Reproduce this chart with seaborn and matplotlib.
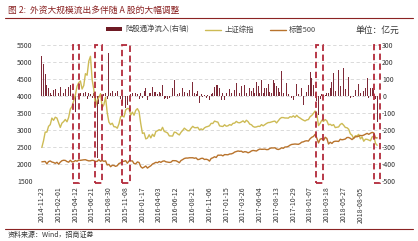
import numpy as np
import pandas as pd
import matplotlib
matplotlib.use("Agg")
import matplotlib.pyplot as plt
import matplotlib.transforms as mtransforms
from matplotlib.patches import Rectangle, Patch
from matplotlib.lines import Line2D
import seaborn as sns

sns.set_theme(style="white")
plt.rcParams['font.family'] = ['Noto Sans CJK SC', 'DejaVu Sans']
plt.rcParams['axes.unicode_minus'] = False

# ---------------- data (weekly) ----------------
tick_labels = ["2014-11-23", "2015-02-01", "2015-04-12", "2015-06-21", "2015-08-30",
               "2015-11-08", "2016-01-17", "2016-04-03", "2016-06-12", "2016-08-21",
               "2016-11-06", "2017-01-15", "2017-03-26", "2017-06-04", "2017-08-13",
               "2017-10-29", "2018-01-07", "2018-03-18", "2018-05-27", "2018-08-05"]

shanghai = [2487, 2683, 2938, 2938, 3108, 3157, 3350, 3285, 3376, 3351,
            3210, 3076, 3203, 3247, 3310, 3241, 3373, 3617, 3691, 3863,
            4034, 4287, 4393, 4442, 4205, 4308, 4657, 4611, 5023, 5166,
            4478, 4192, 3687, 3877, 3957, 4070, 3664, 3744, 3965, 3508,
            3232, 3160, 3200, 3097, 3092, 3053, 3183, 3391, 3412, 3383,
            3590, 3632, 3630, 3436, 3524, 3435, 3578, 3628, 3539, 3186,
            2901, 2916, 2738, 2763, 2860, 2767, 2874, 2810, 2955, 2979,
            3009, 2985, 3078, 2959, 2938, 2913, 2827, 2825, 2822, 2938,
            2927, 2885, 2854, 2932, 2988, 3054, 3013, 2979, 2977, 3050,
            3108, 3070, 3067, 3078, 3003, 3033, 3005, 3063, 3091, 3104,
            3125, 3196, 3192, 3262, 3244, 3232, 3122, 3110, 3103, 3154,
            3112, 3123, 3159, 3140, 3196, 3202, 3253, 3218, 3212, 3237,
            3269, 3223, 3287, 3246, 3173, 3155, 3103, 3083, 3091, 3110,
            3105, 3158, 3123, 3158, 3192, 3218, 3222, 3238, 3253, 3262,
            3208, 3268, 3332, 3367, 3365, 3353, 3353, 3349, 3391, 3378,
            3416, 3372, 3432, 3382, 3353, 3317, 3289, 3266, 3297, 3307,
            3391, 3429, 3488, 3558, 3462, 3129, 3199, 3289, 3254, 3307,
            3269, 3152, 3169, 3131, 3159, 3071, 3082, 3091, 3163, 3193,
            3141, 3075, 3067, 3022, 2889, 2847, 2747, 2831, 2829, 2873,
            2740, 2795, 2669, 2730, 2725, 2703, 2682, 2797, 2821, 2606,
            2550]

sp500 = [2064, 2068, 2075, 2003, 2071, 2089, 2058, 2045, 2019, 2051,
         1995, 2055, 2097, 2110, 2105, 2071, 2053, 2108, 2061, 2067,
         2102, 2081, 2117, 2108, 2116, 2123, 2126, 2107, 2092, 2094,
         2110, 2101, 2077, 2077, 2126, 2079, 2104, 2078, 2092, 1971,
         1989, 1921, 1961, 1958, 1931, 1951, 2015, 2033, 2075, 2079,
         2099, 2023, 2089, 2090, 2091, 2012, 2005, 2061, 2044, 1922,
         1880, 1907, 1940, 1880, 1918, 1948, 1999, 2022, 2050, 2036,
         2073, 2048, 2081, 2092, 2065, 2057, 2047, 2053, 2099, 2099,
         2096, 2071, 2037, 2103, 2130, 2162, 2175, 2174, 2183, 2184,
         2184, 2169, 2180, 2128, 2139, 2165, 2168, 2133, 2141, 2126,
         2085, 2164, 2182, 2213, 2192, 2260, 2258, 2263, 2239, 2277,
         2275, 2271, 2295, 2297, 2316, 2351, 2367, 2383, 2373, 2378,
         2344, 2363, 2356, 2329, 2349, 2384, 2399, 2391, 2382, 2416,
         2439, 2432, 2433, 2438, 2423, 2425, 2459, 2473, 2472, 2477,
         2441, 2426, 2443, 2477, 2461, 2500, 2502, 2519, 2553, 2575,
         2581, 2588, 2582, 2579, 2602, 2642, 2652, 2675, 2683, 2674,
         2743, 2786, 2810, 2873, 2762, 2620, 2732, 2747, 2691, 2786,
         2752, 2588, 2641, 2604, 2656, 2670, 2670, 2663, 2728, 2712,
         2721, 2735, 2779, 2780, 2755, 2718, 2760, 2801, 2802, 2819,
         2840, 2833, 2850, 2875, 2902, 2872, 2905, 2930, 2914, 2767,
         2768]

net_inflow = [235, 190, 130, 65, 45, 15, 8, 35, 40, 35,
              20, 55, 75, 15, 40, 10, 55, 65, 94, -25,
              -95, -40, 10, 20, -10, 15, 25, -15, 20, 10,
              -10, 15, -55, -365, -45, 15, -30, 10, 20, -15,
              255, 15, 30, 45, 20, 30, 15, -15, -45, -65,
              -70, -55, -35, 10, 15, -10, 20, 10, -15, 20,
              -10, 30, 45, -25, 15, 20, 55, 25, 22, 10,
              25, 15, 62, -15, -12, -15, -10, 20, 45, 94,
              16, 10, 16, 20, 45, 25, 25, 15, 35, 20,
              80, 16, 10, 31, -40, 10, -5, 8, -10, 5,
              -24, 10, 20, 55, 65, 65, 45, -24, 15, -24,
              20, 39, 39, 20, 90, 35, 75, 20, 15, 57,
              25, 65, 16, 20, 45, 30, 45, 20, 85, 60,
              15, 94, 20, 45, 45, 70, 25, 15, 92, 75,
              60, 45, 25, 149, 20, 45, 75, 10, 135, -14,
              -24, 16, 68, 10, -24, 45, -53, 15, 25, 65,
              143, 104, 65, 20, -30, -112, -20, 10, 5, 8,
              16, 20, 45, 84, 133, 30, 104, 153, 60, 133,
              163, 40, 133, 114, -14, -20, -4, 35, 55, 69,
              20, 127, 30, 45, 104, -14, 45, 45, 35, -20,
              -155]

# highlighted periods (index ranges of weekly data)
highlight_ranges = [(18.5, 22.0), (31.7, 36.0), (47.6, 52.6), (163.5, 167.7), (198.0, 201.8)]

# ---------------- styles ----------------
c_bar = "#7E2A38"
c_sh = "#CDBB55"
c_sp = "#B8732C"
c_box = "#B22A3A"
c_title = "#8B2323"

idx = np.arange(len(shanghai))
df = pd.DataFrame({"idx": idx, "sh": shanghai, "sp": sp500, "flow": net_inflow})

fig = plt.figure(figsize=(4.18, 2.41), dpi=100)
# primary axes: bars (right-hand scale); twin: lines (left-hand scale), drawn on top
axb = fig.add_axes([41 / 418, 1 - 181 / 241, (378 - 41) / 418, (181 - 45) / 241])
sns.barplot(data=df, x="idx", y="flow", ax=axb, color=c_bar, saturation=1,
            width=0.5, errorbar=None, order=list(idx), linewidth=0, edgecolor=c_bar)
axl = axb.twinx()
sns.lineplot(data=df, x="idx", y="sh", ax=axl, color=c_sh, linewidth=1.0)
sns.lineplot(data=df, x="idx", y="sp", ax=axl, color=c_sp, linewidth=1.0)

axb.set_xlim(-0.5, len(idx) - 0.5)
axb.set_ylim(-500, 300)
axl.set_ylim(1500, 5500)
axb.set_yticks(np.arange(-500, 301, 100))
axl.set_yticks(np.arange(1500, 5501, 500))
axb.yaxis.tick_right()
axl.yaxis.tick_left()
axb.set_xticks(np.arange(0, 10 * len(tick_labels), 10))
axb.set_xticklabels(tick_labels, rotation=90, fontsize=5, color="#333333")
for a in (axb, axl):
    a.set_xlabel("")
    a.set_ylabel("")
    for s in a.spines.values():
        s.set_visible(False)
axl.tick_params(axis="y", labelsize=5, length=0, pad=6, colors="#333333",
                left=True, labelleft=True, right=False, labelright=False)
axb.tick_params(axis="y", labelsize=5, length=0, pad=3, colors="#333333",
                right=True, labelright=True, left=False, labelleft=False)
axb.tick_params(axis="x", length=0, pad=4)
axl.tick_params(axis="x", length=0, labelbottom=False)

# grid from the left scale, under the bars
axb.set_axisbelow(True)
for yv in np.arange(1500, 5501, 500):
    yb = -500 + (yv - 1500) / 5.0
    axb.axhline(yb, linestyle=(0, (4, 3)), color="#D5D5D5", linewidth=0.6, zorder=0)
axb.grid(False)
axl.grid(False)

# dashed highlight boxes
trans = mtransforms.blended_transform_factory(axl.transData, axl.transAxes)
for x0, x1 in highlight_ranges:
    axl.add_patch(Rectangle((x0, -0.012), x1 - x0, 1.012, transform=trans, fill=False,
                            edgecolor=c_box, linewidth=1.3, linestyle=(0, (3.5, 2)),
                            clip_on=False, zorder=5))

# legend
handles = [Patch(facecolor="#6E1A24", edgecolor="none"),
           Line2D([0], [0], color=c_sh, lw=1.0),
           Line2D([0], [0], color=c_sp, lw=1.0)]
labels = ["陆股通净流入(右轴)", "上证综指", "标普500"]
leg = fig.legend(handles, labels, loc="center", bbox_to_anchor=(0.505, 0.876), ncol=3,
                 frameon=False, fontsize=5.3, handlelength=2.2, handleheight=0.5,
                 columnspacing=2.2, handletextpad=0.4)
for t in leg.get_texts():
    t.set_color("#444444")
fig.text(355 / 418, 0.876, "单位：亿元", fontsize=6.3, color="#333333", va="center")

# title and rules
fig.text(8 / 418, 1 - 10 / 241, "图 2:  外资大规模流出多伴随 A 股的大幅调整", fontsize=6.3,
         color=c_title, va="center")
fig.add_artist(Line2D([5 / 418, 413 / 418], [1 - 18 / 241, 1 - 18 / 241], color=c_title,
                      lw=0.8, transform=fig.transFigure))
fig.add_artist(Line2D([5 / 418, 413 / 418], [1 - 229 / 241, 1 - 229 / 241], color=c_title,
                      lw=0.8, transform=fig.transFigure))
fig.text(8 / 418, 1 - 235 / 241, "资料来源：Wind，招商证券", fontsize=5, color="#333333",
         va="center")

fig.savefig("out.png", dpi=100)
